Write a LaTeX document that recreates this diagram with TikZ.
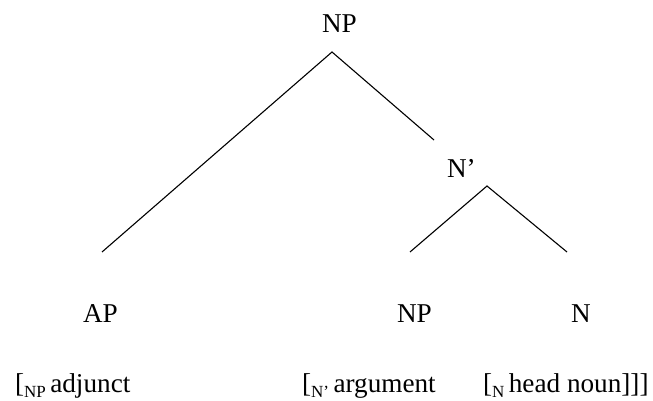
\documentclass[tikz,border=0pt]{standalone}
\usepackage{fontspec}
\setmainfont{Liberation Serif}
\newcommand{\subl}[1]{\raisebox{-0.22em}{\fontsize{17}{17}\selectfont #1}}
\begin{document}
\begin{tikzpicture}[x=1pt,y=-1pt,
  lab/.style={anchor=base west,inner sep=0pt,outer sep=0pt,font=\fontsize{27.2}{30}\selectfont},
  branch/.style={line width=1.1pt}]
\useasboundingbox (0,0) rectangle (653,401);
\node[lab] (np) at (322,33) {NP};
\node[lab] (nbar) at (447,177) {N’};
\node[lab] (ap) at (83,322) {AP};
\node[lab] (np2) at (397,322) {NP};
\node[lab] (n) at (571,322) {N};
\node[lab] (g1) at (15,392) {[\subl{NP}\,adjunct};
\node[lab] (g2) at (302,392) {[\subl{N’}\,argument};
\node[lab] (g3) at (483,392) {[\subl{N}\,head noun]]]};
\coordinate (a1) at (332,52);
\coordinate (e1) at (102,252);
\coordinate (e2) at (434,140);
\coordinate (a2) at (487,186);
\coordinate (e3) at (410,252);
\coordinate (e4) at (567,252);
\draw[branch] (e1) -- (a1) -- (e2);
\draw[branch] (e3) -- (a2) -- (e4);
\end{tikzpicture}
\end{document}
